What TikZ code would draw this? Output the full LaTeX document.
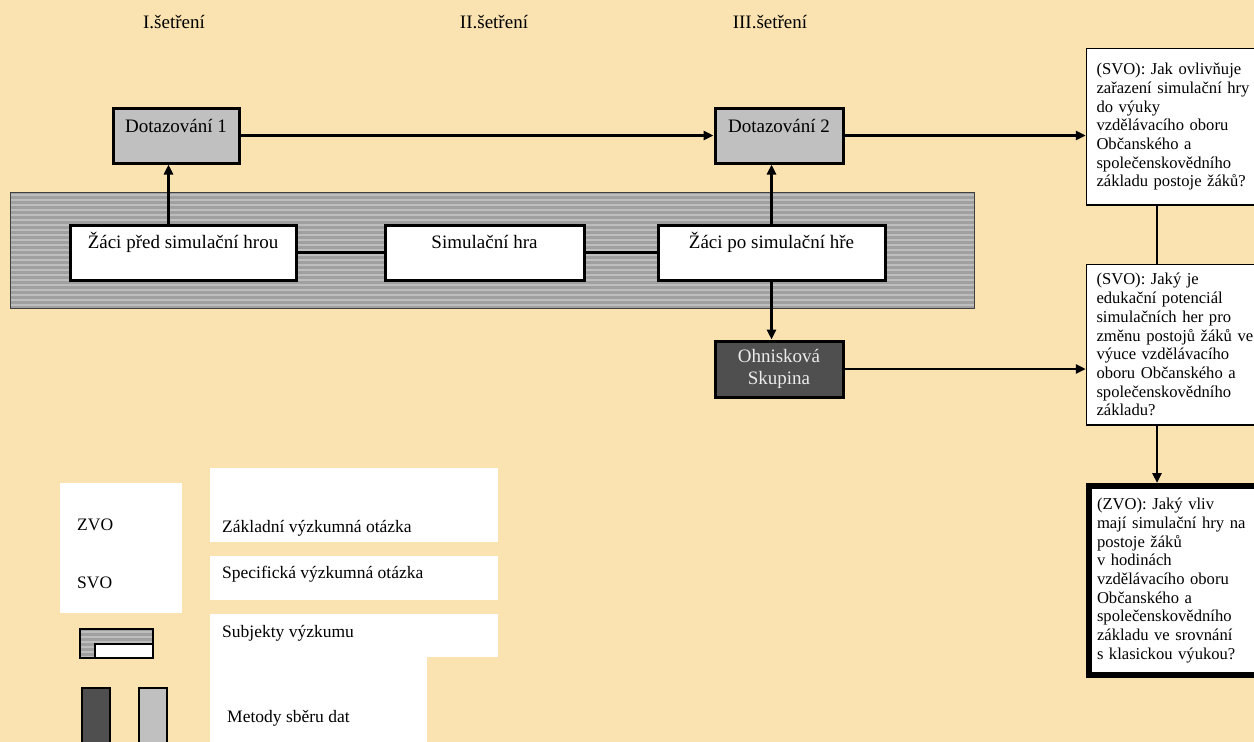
\documentclass[tikz,border=0pt]{standalone}
\usepackage{fontspec}
\setmainfont{Liberation Serif}
\usetikzlibrary{arrows.meta}

\definecolor{parchment}{HTML}{FAE3B1}
\definecolor{boxgray}{HTML}{C0C0C0}
\definecolor{darkbox}{HTML}{4F4F4F}
\definecolor{stripeA}{HTML}{A0A0A0}
\definecolor{stripeB}{HTML}{BEBEBE}

\tikzset{
  survey/.style={draw, line width=3pt, fill=boxgray, minimum height=55pt, anchor=north west,
    inner sep=0pt, font=\fontsize{19}{21}\selectfont, text height=13pt, text depth=19pt},
  subject/.style={draw, line width=3pt, fill=white, minimum height=55pt, anchor=north west,
    inner sep=0pt, font=\fontsize{19}{21}\selectfont, text height=13pt, text depth=21pt},
  question/.style={draw, line width=1.5pt, fill=white, anchor=north west, text width=170pt,
    align=left, inner xsep=10pt, inner ysep=0pt, font=\fontsize{16.6}{18.7}\selectfont},
  legendtext/.style={anchor=base west, inner sep=0pt, font=\fontsize{17.5}{19}\selectfont},
  link/.style={line width=2.6pt},
  arr/.style={link, -{Triangle[length=10pt,width=9pt]}},
}

\begin{document}
\begin{tikzpicture}[x=1pt, y=-1pt]
\fill[parchment] (0,0) rectangle (1254,742);
\useasboundingbox (0,0) rectangle (1254,742);

% headings
\node[anchor=base, font=\fontsize{19}{21}\selectfont] (h1) at (174,28) {I.šetření};
\node[anchor=base, font=\fontsize{19}{21}\selectfont] (h2) at (494,28) {II.šetření};
\node[anchor=base, font=\fontsize{19}{21}\selectfont] (h3) at (770,28) {III.šetření};

% band of subjects
\fill[stripeA] (10,192) rectangle (974,308);
\foreach \y in {192,197,...,304}
  \fill[stripeB] (10,\y+1.5) rectangle (974,\y+4);
\draw[line width=1pt, black!75] (10,192) rectangle (974,308);

\node[survey, minimum width=126pt] (dot1) at (111.5,106.5) {Dotazování 1};
\node[survey, minimum width=128pt] (dot2) at (713.5,106.5) {Dotazování 2};

\node[subject, minimum width=226pt] (pre) at (68.5,223.5) {Žáci před simulační hrou};
\node[subject, minimum width=199pt] (game) at (383.5,223.5) {Simulační hra};
\node[subject, minimum width=227pt] (post) at (656.5,223.5) {Žáci po simulační hře};

\node[draw, line width=3pt, fill=darkbox, text=black!8, anchor=north west, inner sep=0pt,
  minimum width=128pt, minimum height=56pt, align=center,
  font=\fontsize{19}{22}\selectfont] (focus) at (713.5,339.5) {Ohnisková\\Skupina};

\node[question, minimum height=156.5pt] (svo1) at (1085.75,47.75)
  {(SVO): Jak ovlivňuje\\zařazení simulační hry\\do výuky\\vzdělávacího oboru\\Občanského a\\společenskovědního\\základu postoje žáků?};
\node[question, minimum height=160.5pt] (svo2) at (1085.75,263.75)
  {(SVO): Jaký je\\edukační potenciál\\simulačních her pro\\změnu postojů žáků ve\\výuce vzdělávacího\\oboru Občanského a\\společenskovědního\\základu?};
\node[question, line width=6pt, minimum height=189pt, inner xsep=8pt] (zvo) at (1086,483)
  {(ZVO): Jaký vliv\\mají simulační hry na\\postoje žáků\\v hodinách\\vzdělávacího oboru\\Občanského a\\společenskovědního\\základu ve srovnání\\s klasickou výukou?};

% connectors
\coordinate (qx) at (1157,0);
\draw[link] (pre.east) -- (game.west);
\draw[link] (game.east) -- (post.west);
\draw[arr] ([xshift=-14.5pt]pre.north) -- ([xshift=-14.5pt]pre.north |- dot1.south);
\draw[arr] (post.north) -- (post.north |- dot2.south);
\draw[arr] (post.south) -- (post.south |- focus.north);
\draw[arr] (dot1.east) -- (dot2.west);
\draw[arr] (dot2.east) -- (dot2.east -| svo1.west);
\draw[arr] (focus.east) -- (focus.east -| svo2.west);
\draw[link] (svo1.south -| qx) -- (svo2.north -| qx);
\draw[arr] (svo2.south -| qx) -- (zvo.north -| qx);

% legend
\fill[white] (60,483) rectangle (182,613);
\fill[white] (210,468) rectangle (498,542);
\fill[white] (210,556) rectangle (498,600);
\fill[white] (210,614) rectangle (498,657);
\fill[white] (210,657) rectangle (427,742);
\node[legendtext] (kzvo) at (77,530) {ZVO};
\node[legendtext] (ksvo) at (77,588) {SVO};
\node[legendtext] (tzvo) at (222,532) {Základní výzkumná otázka};
\node[legendtext] (tsvo) at (222,578) {Specifická výzkumná otázka};
\node[legendtext] (tsub) at (222,637) {Subjekty výzkumu};
\node[legendtext] (tmet) at (227,722) {Metody sběru dat};

\fill[stripeA] (80,629) rectangle (153,658);
\foreach \y in {629,634,...,654}
  \fill[stripeB] (80,\y+1.5) rectangle (153,\y+4);
\draw[line width=2pt] (80,629) rectangle (153,658);
\draw[line width=2pt, fill=white] (95,644) rectangle (153,658);
\draw[line width=2.5pt, fill=darkbox] (82,688) rectangle (110,760);
\draw[line width=2.5pt, fill=boxgray] (139,688) rectangle (167,760);
\end{tikzpicture}
\end{document}
